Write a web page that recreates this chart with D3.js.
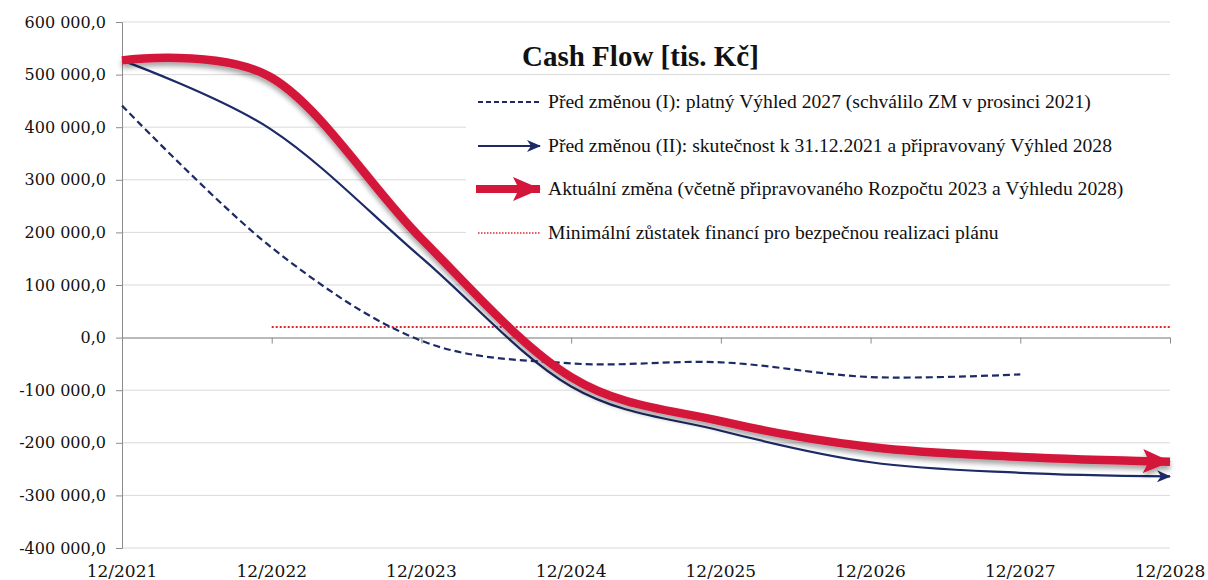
<!DOCTYPE html>
<html>
<head>
<meta charset="utf-8">
<script src="https://cdn.jsdelivr.net/npm/d3@7"></script>
<style>
  body { margin: 0; background: #fff; }
  text { font-family: "Liberation Serif", "DejaVu Serif", serif; fill: #111; }
</style>
</head>
<body>
<div id="chart"></div>
<script>
// chart data
const periods = ['12/2021', '12/2022', '12/2023', '12/2024', '12/2025', '12/2026', '12/2027', '12/2028']
const planI = [441000, 171000, -6000, -49000, -47000, -75000, -70000]          // ends 12/2027
const planII = [527000, 395000, 152000, -93000, -177000, -237000, -257000, -264000]
const current = [527000, 494000, 188000, -75000, -159000, -208000, -227000, -236000]
const minBalance = [null, 20000, 20000, 20000, 20000, 20000, 20000, 20000]
const yTicks = [600000, 500000, 400000, 300000, 200000, 100000, 0, -100000, -200000, -300000, -400000]
const legendLabels = [
  'Před změnou (I): platný Výhled 2027 (schválilo ZM v prosinci 2021)',
  'Před změnou (II): skutečnost k 31.12.2021 a připravovaný Výhled 2028',
  'Aktuální změna (včetně připravovaného Rozpočtu 2023 a Výhledu 2028)',
  'Minimální zůstatek financí pro bezpečnou realizaci plánu'
]
const title = 'Cash Flow [tis. Kč]'

const width = 1208,
  height = 580,
  plotLeft = 122, plotRight = 1170, plotTop = 22, plotBottom = 548

const navy = '#1c2a66', red = '#d4163b'

const svg = d3.select('#chart').append('svg')
  .attr('width', width)
  .attr('height', height)

const defs = svg.append('defs')
const shadow = defs.append('filter').attr('id', 'shadow')
  .attr('x', '-5%').attr('y', '-20%').attr('width', '110%').attr('height', '150%')
shadow.append('feDropShadow')
  .attr('dx', 0).attr('dy', 4).attr('stdDeviation', 2.5)
  .attr('flood-color', '#000').attr('flood-opacity', 0.35)

// arrow heads
defs.append('marker').attr('id', 'arrowBlue')
  .attr('markerUnits', 'userSpaceOnUse')
  .attr('viewBox', '0 0 14 12').attr('refX', 13).attr('refY', 6)
  .attr('markerWidth', 14).attr('markerHeight', 12).attr('orient', 'auto')
  .append('path').attr('d', 'M0,0 L14,6 L0,12 L4,6 Z').attr('fill', navy)
defs.append('marker').attr('id', 'arrowRed')
  .attr('markerUnits', 'userSpaceOnUse')
  .attr('viewBox', '0 0 28 24').attr('refX', 27).attr('refY', 12)
  .attr('markerWidth', 28).attr('markerHeight', 24).attr('orient', 'auto')
  .append('path').attr('d', 'M0,0 L28,12 L0,24 L6,12 Z').attr('fill', red)

const x = d3.scaleLinear().domain([0, periods.length - 1]).range([plotLeft, plotRight])
const y = d3.scaleLinear().domain([-400000, 600000]).range([plotBottom, plotTop])

const fmt = d3.formatLocale({ decimal: ',', thousands: ' ', grouping: [3], currency: ['', ''], minus: '-' }).format(',.1f')

// gridlines
svg.append('g').selectAll('line')
  .data(yTicks)
  .join('line')
  .attr('x1', plotLeft).attr('x2', plotRight)
  .attr('y1', d => y(d)).attr('y2', d => y(d))
  .attr('stroke', '#d9d9d9').attr('stroke-width', 1)

// y axis
const yAxis = svg.append('g')
  .attr('transform', `translate(${plotLeft},0)`)
  .call(d3.axisLeft(y).tickValues(yTicks).tickFormat(fmt).tickSize(6).tickPadding(10))
yAxis.attr('font-family', null).attr('font-size', null)
yAxis.select('.domain').attr('stroke', '#8c8c8c')
yAxis.selectAll('.tick line').attr('stroke', '#8c8c8c')
yAxis.selectAll('text')
  .style('font-family', '"DejaVu Serif", serif')
  .style('font-size', '16px')
  .attr('fill', '#111')

// x axis on zero line
const xAxis = svg.append('g')
  .attr('transform', `translate(0,${y(0)})`)
  .call(d3.axisBottom(x).tickValues(d3.range(periods.length)).tickFormat('').tickSize(6).tickSizeOuter(0))
xAxis.select('.domain').attr('stroke', '#8c8c8c')
xAxis.selectAll('.tick line').attr('stroke', '#8c8c8c')

svg.append('g').selectAll('text')
  .data(periods)
  .join('text')
  .attr('x', (d, i) => x(i))
  .attr('y', 577)
  .attr('text-anchor', 'middle')
  .style('font-family', '"DejaVu Serif", serif')
  .style('font-size', '17px')
  .text(d => d)

// legend background hides the gridlines behind it
svg.append('rect')
  .attr('x', 466).attr('y', 82)
  .attr('width', plotRight - 466).attr('height', 166)
  .attr('fill', '#fff')

const straight = d3.line()
  .defined(d => d != null)
  .x((d, i) => x(i))
  .y(d => y(d))

const smooth = d3.line()
  .x((d, i) => x(i))
  .y(d => y(d))
  .curve(d3.curveCardinal.tension(0))

svg.append('path')
  .datum(minBalance)
  .attr('d', straight)
  .attr('fill', 'none')
  .attr('stroke', '#e0242c')
  .attr('stroke-width', 2)
  .attr('stroke-dasharray', '2,2')

svg.append('path')
  .datum(planI)
  .attr('d', smooth)
  .attr('fill', 'none')
  .attr('stroke', navy)
  .attr('stroke-width', 2.2)
  .attr('stroke-dasharray', '7,4')

svg.append('path')
  .datum(planII)
  .attr('d', smooth)
  .attr('fill', 'none')
  .attr('stroke', navy)
  .attr('stroke-width', 2.2)
  .attr('marker-end', 'url(#arrowBlue)')

svg.append('path')
  .datum(current)
  .attr('d', smooth)
  .attr('fill', 'none')
  .attr('stroke', red)
  .attr('stroke-width', 8.5)
  .attr('filter', 'url(#shadow)')
  .attr('marker-end', 'url(#arrowRed)')

// title + legend
svg.append('text')
  .attr('x', 522).attr('y', 66)
  .style('font-size', '29px')
  .attr('font-weight', 'bold')
  .text(title)

const rowY = [102, 146, 189, 233]
const lx1 = 478, lx2 = 540

svg.append('line').attr('x1', lx1).attr('x2', lx2).attr('y1', rowY[0]).attr('y2', rowY[0])
  .attr('stroke', navy).attr('stroke-width', 2).attr('stroke-dasharray', '5,3')
svg.append('line').attr('x1', lx1).attr('x2', lx2).attr('y1', rowY[1]).attr('y2', rowY[1])
  .attr('stroke', navy).attr('stroke-width', 2).attr('marker-end', 'url(#arrowBlue)')
svg.append('line').attr('x1', lx1 - 2).attr('x2', lx2).attr('y1', rowY[2]).attr('y2', rowY[2])
  .attr('stroke', red).attr('stroke-width', 8).attr('marker-end', 'url(#arrowRed)')
svg.append('line').attr('x1', lx1).attr('x2', lx2).attr('y1', rowY[3]).attr('y2', rowY[3])
  .attr('stroke', '#e0242c').attr('stroke-width', 1.5).attr('stroke-dasharray', '1.5,1.5')

svg.append('g').selectAll('text')
  .data(legendLabels)
  .join('text')
  .attr('x', 548)
  .attr('y', (d, i) => rowY[i] + 6)
  .style('font-size', '19.6px')
  .text(d => d)
</script>
</body>
</html>
